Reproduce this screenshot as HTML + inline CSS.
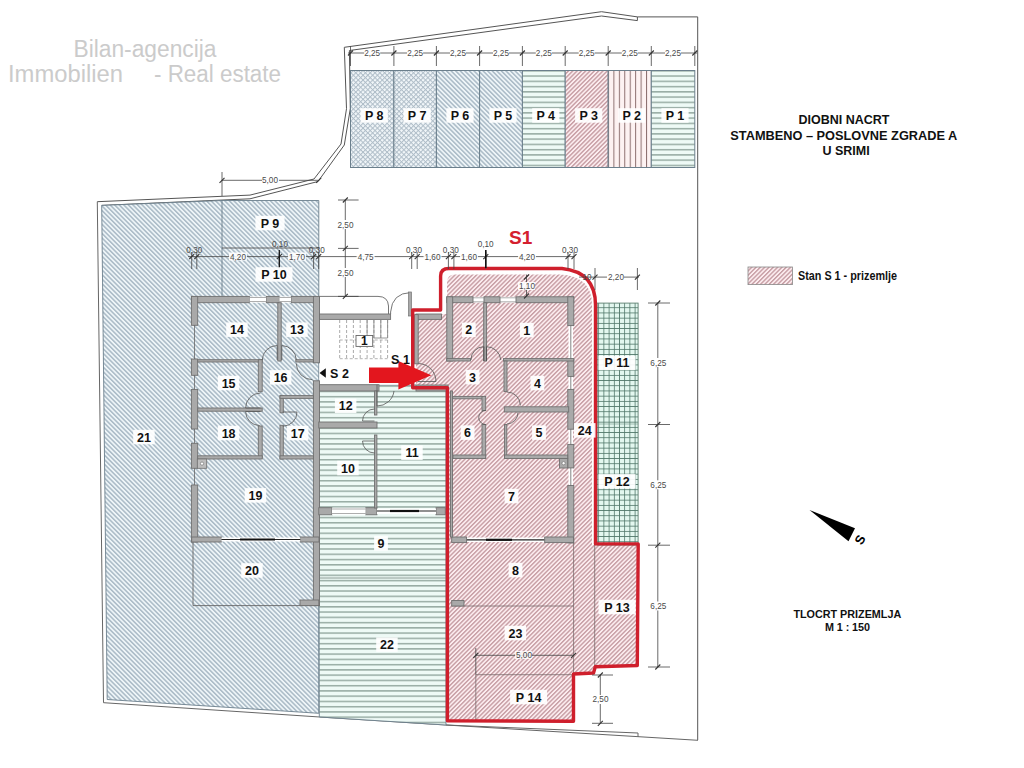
<!DOCTYPE html>
<html><head><meta charset="utf-8">
<style>
html,body{margin:0;padding:0;background:#fff;width:1024px;height:768px;overflow:hidden}
svg{display:block;font-family:"Liberation Sans", sans-serif}
</style></head><body>
<svg width="1024" height="768" viewBox="0 0 1024 768">
<defs>
<pattern id="hb" patternUnits="userSpaceOnUse" width="3.23" height="3.23" patternTransform="rotate(-45)">
<rect width="3.23" height="3.23" fill="#eef5f8"/><rect width="1.5" height="3.23" fill="#aabac6"/></pattern>
<pattern id="hp" patternUnits="userSpaceOnUse" width="3.05" height="3.05" patternTransform="rotate(45)">
<rect width="3.05" height="3.05" fill="#fcecef"/><rect width="1.4" height="3.05" fill="#c79ea4"/></pattern>
<pattern id="hg" patternUnits="userSpaceOnUse" width="10" height="5.255" y="1.75">
<rect width="10" height="5.255" fill="#eefaf6"/><rect y="0" width="10" height="1.5" fill="#98aca4"/></pattern>
<pattern id="gr" patternUnits="userSpaceOnUse" width="5.2" height="5.2" x="598.25" y="302.1">
<rect width="5.2" height="5.2" fill="#e3f7ef"/><rect width="5.2" height="0.8" fill="#4f7668"/><rect width="0.8" height="5.2" fill="#4f7668"/></pattern>
<pattern id="xb" patternUnits="userSpaceOnUse" width="3.4" height="3.4" patternTransform="rotate(45)">
<rect width="3.4" height="3.4" fill="#f1f6f9"/><rect width="1" height="3.4" fill="#afbdc8"/><rect width="3.4" height="1" fill="#afbdc8"/></pattern>
<pattern id="vp" patternUnits="userSpaceOnUse" width="5.44" height="10" x="613.4">
<rect width="5.4" height="10" fill="#fdf2f2"/><rect width="1" height="10" fill="#8d7070"/></pattern>
</defs>

<g fill="#cbcbcb" font-size="23.5">
<text x="145" y="56.5" text-anchor="middle" textLength="143" lengthAdjust="spacingAndGlyphs">Bilan-agencija</text>
<text x="8" y="81.5" textLength="115" lengthAdjust="spacingAndGlyphs">Immobilien</text>
<text x="154" y="81.5" textLength="127" lengthAdjust="spacingAndGlyphs">- Real estate</text>
</g>
<polyline points="97.3,201.7 250.0,195.1 314.0,179.0 341.0,144.0 346.5,108.7 344.3,47.3 601.5,11.7 637.4,16.9" fill="none" stroke="#555" stroke-width="1.0" />
<polyline points="101.7,205.4 250.0,198.8 318.0,181.5 344.3,145.0 350.3,108.7 349.4,50.5 601.5,16.0 637.4,20.6" fill="none" stroke="#555" stroke-width="1.0" />
<line x1="637.4" y1="16.9" x2="637.4" y2="20.6" stroke="#555" stroke-width="1" />
<polyline points="637.4,16.9 697.7,16.9 697.7,740.0" fill="none" stroke="#555" stroke-width="1.0" />
<polyline points="97.3,201.7 103.5,702.7 319.7,717.0 446.0,725.0 638.0,733.0 638.0,737.0" fill="none" stroke="#666" stroke-width="1.0" />
<polyline points="446.0,725.0 698.0,740.3" fill="none" stroke="#666" stroke-width="1.0" />
<rect x="350.5" y="70.5" width="43.4" height="97.0" fill="url(#xb)" stroke="#6b7f8c" stroke-width="1.0" />
<rect x="393.9" y="70.5" width="42.5" height="97.0" fill="url(#xb)" stroke="#6b7f8c" stroke-width="1.0" />
<rect x="436.4" y="70.5" width="43.2" height="97.0" fill="url(#hb)" stroke="#6b7f8c" stroke-width="1.0" />
<rect x="479.6" y="70.5" width="42.8" height="97.0" fill="url(#hb)" stroke="#6b7f8c" stroke-width="1.0" />
<rect x="522.4" y="70.5" width="42.8" height="97.0" fill="url(#hg)" stroke="#6b7f8c" stroke-width="1.0" />
<rect x="565.2" y="70.5" width="43.0" height="97.0" fill="url(#hp)" stroke="#6b7f8c" stroke-width="1.0" />
<rect x="608.2" y="70.5" width="43.1" height="97.0" fill="url(#vp)" stroke="#6b7f8c" stroke-width="1.0" />
<rect x="651.3" y="70.5" width="43.5" height="97.0" fill="url(#hg)" stroke="#6b7f8c" stroke-width="1.0" />
<line x1="348.0" y1="53.0" x2="697.0" y2="53.0" stroke="#444" stroke-width="0.8" />
<line x1="350.5" y1="46.0" x2="350.5" y2="66.0" stroke="#444" stroke-width="0.8" />
<line x1="348.0" y1="55.5" x2="353.0" y2="50.5" stroke="#333" stroke-width="1.1" />
<line x1="393.9" y1="46.0" x2="393.9" y2="66.0" stroke="#444" stroke-width="0.8" />
<line x1="391.4" y1="55.5" x2="396.4" y2="50.5" stroke="#333" stroke-width="1.1" />
<line x1="436.4" y1="46.0" x2="436.4" y2="66.0" stroke="#444" stroke-width="0.8" />
<line x1="433.9" y1="55.5" x2="438.9" y2="50.5" stroke="#333" stroke-width="1.1" />
<line x1="479.6" y1="46.0" x2="479.6" y2="66.0" stroke="#444" stroke-width="0.8" />
<line x1="477.1" y1="55.5" x2="482.1" y2="50.5" stroke="#333" stroke-width="1.1" />
<line x1="522.4" y1="46.0" x2="522.4" y2="66.0" stroke="#444" stroke-width="0.8" />
<line x1="519.9" y1="55.5" x2="524.9" y2="50.5" stroke="#333" stroke-width="1.1" />
<line x1="565.2" y1="46.0" x2="565.2" y2="66.0" stroke="#444" stroke-width="0.8" />
<line x1="562.7" y1="55.5" x2="567.7" y2="50.5" stroke="#333" stroke-width="1.1" />
<line x1="608.2" y1="46.0" x2="608.2" y2="66.0" stroke="#444" stroke-width="0.8" />
<line x1="605.7" y1="55.5" x2="610.7" y2="50.5" stroke="#333" stroke-width="1.1" />
<line x1="651.3" y1="46.0" x2="651.3" y2="66.0" stroke="#444" stroke-width="0.8" />
<line x1="648.8" y1="55.5" x2="653.8" y2="50.5" stroke="#333" stroke-width="1.1" />
<line x1="694.8" y1="46.0" x2="694.8" y2="66.0" stroke="#444" stroke-width="0.8" />
<line x1="692.3" y1="55.5" x2="697.3" y2="50.5" stroke="#333" stroke-width="1.1" />
<rect x="364.2" y="49" width="16" height="8" fill="#fff"/>
<text x="372.2" y="56.0" font-size="8.2" fill="#4a4a4a" text-anchor="middle">2,25</text>
<rect x="407.1" y="49" width="16" height="8" fill="#fff"/>
<text x="415.1" y="56.0" font-size="8.2" fill="#4a4a4a" text-anchor="middle">2,25</text>
<rect x="450.0" y="49" width="16" height="8" fill="#fff"/>
<text x="458.0" y="56.0" font-size="8.2" fill="#4a4a4a" text-anchor="middle">2,25</text>
<rect x="493.0" y="49" width="16" height="8" fill="#fff"/>
<text x="501.0" y="56.0" font-size="8.2" fill="#4a4a4a" text-anchor="middle">2,25</text>
<rect x="535.8" y="49" width="16" height="8" fill="#fff"/>
<text x="543.8" y="56.0" font-size="8.2" fill="#4a4a4a" text-anchor="middle">2,25</text>
<rect x="578.7" y="49" width="16" height="8" fill="#fff"/>
<text x="586.7" y="56.0" font-size="8.2" fill="#4a4a4a" text-anchor="middle">2,25</text>
<rect x="621.8" y="49" width="16" height="8" fill="#fff"/>
<text x="629.8" y="56.0" font-size="8.2" fill="#4a4a4a" text-anchor="middle">2,25</text>
<rect x="665.0" y="49" width="16" height="8" fill="#fff"/>
<text x="673.0" y="56.0" font-size="8.2" fill="#4a4a4a" text-anchor="middle">2,25</text>
<rect x="360.6" y="108.2" width="27.2" height="14.5" fill="#fff" opacity="0.92"/><text x="374.2" y="120.0" font-size="12.5" font-weight="bold" fill="#111" text-anchor="middle" letter-spacing="0">P 8</text>
<rect x="403.5" y="108.2" width="27.2" height="14.5" fill="#fff" opacity="0.92"/><text x="417.1" y="120.0" font-size="12.5" font-weight="bold" fill="#111" text-anchor="middle" letter-spacing="0">P 7</text>
<rect x="446.4" y="108.2" width="27.2" height="14.5" fill="#fff" opacity="0.92"/><text x="460.0" y="120.0" font-size="12.5" font-weight="bold" fill="#111" text-anchor="middle" letter-spacing="0">P 6</text>
<rect x="489.4" y="108.2" width="27.2" height="14.5" fill="#fff" opacity="0.92"/><text x="503.0" y="120.0" font-size="12.5" font-weight="bold" fill="#111" text-anchor="middle" letter-spacing="0">P 5</text>
<rect x="532.2" y="108.2" width="27.2" height="14.5" fill="#fff" opacity="0.92"/><text x="545.8" y="120.0" font-size="12.5" font-weight="bold" fill="#111" text-anchor="middle" letter-spacing="0">P 4</text>
<rect x="575.1" y="108.2" width="27.2" height="14.5" fill="#fff" opacity="0.92"/><text x="588.7" y="120.0" font-size="12.5" font-weight="bold" fill="#111" text-anchor="middle" letter-spacing="0">P 3</text>
<rect x="618.1" y="108.2" width="27.2" height="14.5" fill="#fff" opacity="0.92"/><text x="631.8" y="120.0" font-size="12.5" font-weight="bold" fill="#111" text-anchor="middle" letter-spacing="0">P 2</text>
<rect x="661.4" y="108.2" width="27.2" height="14.5" fill="#fff" opacity="0.92"/><text x="675.0" y="120.0" font-size="12.5" font-weight="bold" fill="#111" text-anchor="middle" letter-spacing="0">P 1</text>
<polygon points="101.7,205.4 222.0,200.5 318.8,200.5 318.8,713.3 107.2,699.5" fill="url(#hb)" stroke="#6b7f8c" stroke-width="0.9" />
<line x1="222.0" y1="200.0" x2="222.0" y2="296.4" stroke="#6b7f8c" stroke-width="0.9" />
<line x1="222.0" y1="248.0" x2="318.8" y2="248.0" stroke="#555" stroke-width="0.9" />
<polyline points="193.0,542.0 193.0,605.6 318.8,605.6" fill="none" stroke="#666" stroke-width="0.9" />
<polyline points="193.0,296.4 193.0,200.0" fill="none" stroke="#6b7f8c" stroke-width="0.0" />
<polygon points="318.8,385.0 446.0,385.0 446.0,725.0 319.3,717.0" fill="url(#hg)" stroke="#6b7f8c" stroke-width="0.9" />
<line x1="319.3" y1="578.0" x2="446.0" y2="578.0" stroke="#7d8f88" stroke-width="0.9" />
<path d="M416,314 L447,314 L447,283 Q447,274.6 455,274.6 L560,274.6 Q592,276 592,305 L592,545 L637,545 L636.5,665 L595,666.7 L593.3,672.5 L573.5,673.3 L573.5,721 L448,721 L448,388.5 L416,387.5 Z" fill="url(#hp)" stroke="none"/>
<line x1="573.6" y1="542.0" x2="573.6" y2="673.3" stroke="#7a6a6c" stroke-width="0.8" />
<line x1="451.7" y1="606.0" x2="573.6" y2="606.0" stroke="#7a6a6c" stroke-width="0.8" />
<polyline points="475.8,722.0 475.8,674.7 573.5,674.7" fill="none" stroke="#7a6a6c" stroke-width="0.8" />
<line x1="594.7" y1="544.0" x2="594.7" y2="666.0" stroke="#7a6a6c" stroke-width="0.8" />
<rect x="597.1" y="303.1" width="41.0" height="241.9" fill="url(#gr)" stroke="#5b7f70" stroke-width="0.9" />
<line x1="597.1" y1="424.0" x2="638.1" y2="424.0" stroke="#6e9384" stroke-width="0.6" />
<rect x="319.5" y="296.4" width="91.5" height="88.3" fill="#ffffff" />
<path d="M319.5,296.4 L378,296.4 Q388,296.4 388.5,306 L388.5,314" fill="none" stroke="#666" stroke-width="0.9"/>
<path d="M390.6,314 L390.6,312 Q392,293 411,292.5" fill="none" stroke="#666" stroke-width="0.9"/>
<rect x="408.6" y="292.0" width="2.8" height="24.0" fill="#a9a9a9" stroke="#707070" stroke-width="0.7" />
<line x1="345.3" y1="200.0" x2="345.3" y2="296.4" stroke="#444" stroke-width="0.8" />
<line x1="339.7" y1="320.0" x2="339.7" y2="358.7" stroke="#a0a0a0" stroke-width="0.9" stroke-dasharray="3,2"/>
<line x1="346.6" y1="320.0" x2="346.6" y2="358.7" stroke="#a0a0a0" stroke-width="0.9" stroke-dasharray="3,2"/>
<line x1="353.4" y1="320.0" x2="353.4" y2="358.7" stroke="#a0a0a0" stroke-width="0.9" stroke-dasharray="3,2"/>
<line x1="360.2" y1="320.0" x2="360.2" y2="358.7" stroke="#a0a0a0" stroke-width="0.9" stroke-dasharray="3,2"/>
<line x1="367.1" y1="320.0" x2="367.1" y2="358.7" stroke="#a0a0a0" stroke-width="0.9" stroke-dasharray="3,2"/>
<line x1="367.1" y1="320.0" x2="367.1" y2="338.0" stroke="#8a8a8a" stroke-width="0.9" />
<line x1="373.9" y1="320.0" x2="373.9" y2="358.7" stroke="#a0a0a0" stroke-width="0.9" stroke-dasharray="3,2"/>
<line x1="373.9" y1="320.0" x2="373.9" y2="338.0" stroke="#8a8a8a" stroke-width="0.9" />
<line x1="380.8" y1="320.0" x2="380.8" y2="358.7" stroke="#a0a0a0" stroke-width="0.9" stroke-dasharray="3,2"/>
<line x1="380.8" y1="320.0" x2="380.8" y2="338.0" stroke="#8a8a8a" stroke-width="0.9" />
<line x1="387.6" y1="320.0" x2="387.6" y2="358.7" stroke="#a0a0a0" stroke-width="0.9" stroke-dasharray="3,2"/>
<line x1="387.6" y1="320.0" x2="387.6" y2="338.0" stroke="#8a8a8a" stroke-width="0.9" />
<line x1="339.7" y1="340.0" x2="387.6" y2="340.0" stroke="#a0a0a0" stroke-width="0.8" stroke-dasharray="3,2"/>
<line x1="339.7" y1="358.7" x2="387.6" y2="358.7" stroke="#a0a0a0" stroke-width="0.8" stroke-dasharray="3,2"/>
<line x1="373.8" y1="338.0" x2="387.6" y2="338.0" stroke="#8a8a8a" stroke-width="0.9" />
<rect x="356.0" y="335.5" width="16.7" height="10.9" fill="#fff" stroke="#666" stroke-width="0.9" />
<text x="364.3" y="345" font-size="12" font-weight="bold" fill="#111" text-anchor="middle">1</text>
<rect x="191.4" y="296.4" width="58.3" height="6.3" fill="#a9a9a9" stroke="#707070" stroke-width="0.9" />
<rect x="266.0" y="296.4" width="13.4" height="6.3" fill="#a9a9a9" stroke="#707070" stroke-width="0.9" />
<rect x="291.0" y="296.4" width="28.2" height="6.3" fill="#a9a9a9" stroke="#707070" stroke-width="0.9" />
<rect x="191.4" y="296.4" width="6.3" height="28.9" fill="#a9a9a9" stroke="#707070" stroke-width="0.9" />
<rect x="191.4" y="359.0" width="6.3" height="16.3" fill="#a9a9a9" stroke="#707070" stroke-width="0.9" />
<rect x="191.4" y="389.4" width="6.3" height="39.6" fill="#a9a9a9" stroke="#707070" stroke-width="0.9" />
<rect x="191.4" y="443.3" width="6.3" height="25.0" fill="#a9a9a9" stroke="#707070" stroke-width="0.9" />
<rect x="191.4" y="485.0" width="6.3" height="57.0" fill="#a9a9a9" stroke="#707070" stroke-width="0.9" />
<rect x="313.4" y="296.4" width="6.1" height="66.4" fill="#a9a9a9" stroke="#707070" stroke-width="0.9" />
<rect x="313.4" y="380.8" width="6.1" height="224.8" fill="#a9a9a9" stroke="#707070" stroke-width="0.9" />
<rect x="191.7" y="537.0" width="29.7" height="5.0" fill="#a9a9a9" stroke="#707070" stroke-width="0.9" />
<rect x="300.3" y="537.0" width="18.7" height="5.0" fill="#a9a9a9" stroke="#707070" stroke-width="0.9" />
<rect x="300.0" y="600.0" width="18.8" height="5.6" fill="#a9a9a9" stroke="#707070" stroke-width="0.9" />
<rect x="319.5" y="314.0" width="71.1" height="5.4" fill="#a9a9a9" stroke="#707070" stroke-width="0.9" />
<rect x="319.5" y="384.7" width="59.5" height="6.3" fill="#a9a9a9" stroke="#707070" stroke-width="0.9" />
<rect x="318.8" y="422.0" width="58.2" height="6.0" fill="#a9a9a9" stroke="#707070" stroke-width="0.9" />
<rect x="318.8" y="507.7" width="13.2" height="7.1" fill="#a9a9a9" stroke="#707070" stroke-width="0.9" />
<rect x="365.6" y="507.7" width="11.3" height="7.1" fill="#a9a9a9" stroke="#707070" stroke-width="0.9" />
<rect x="436.0" y="507.7" width="9.3" height="7.1" fill="#a9a9a9" stroke="#707070" stroke-width="0.9" />
<rect x="249.7" y="296.4" width="16.3" height="6.3" fill="#fff" />
<rect x="279.4" y="296.4" width="11.6" height="6.3" fill="#fff" />
<rect x="332.0" y="507.7" width="33.6" height="7.1" fill="#fff" />
<rect x="473.0" y="296.8" width="11.0" height="5.9" fill="#fff" />
<rect x="500.0" y="296.8" width="16.0" height="5.9" fill="#fff" />
<rect x="568.5" y="325.6" width="4.5" height="33.8" fill="#fff" />
<rect x="568.5" y="376.4" width="4.5" height="13.0" fill="#fff" />
<rect x="568.5" y="429.2" width="4.5" height="15.2" fill="#fff" />
<rect x="568.5" y="467.9" width="4.5" height="17.6" fill="#fff" />
<rect x="221.4" y="537.5" width="78.9" height="4.0" fill="#fff" />
<rect x="466.6" y="537.5" width="78.1" height="4.5" fill="#fff" />
<rect x="377.0" y="508.5" width="59.0" height="5.5" fill="#fff" />
<line x1="249.7" y1="297.5" x2="266.0" y2="297.5" stroke="#777" stroke-width="0.6" />
<line x1="249.7" y1="301.5" x2="266.0" y2="301.5" stroke="#777" stroke-width="0.6" />
<line x1="279.4" y1="297.5" x2="291.0" y2="297.5" stroke="#777" stroke-width="0.6" />
<line x1="279.4" y1="301.5" x2="291.0" y2="301.5" stroke="#777" stroke-width="0.6" />
<line x1="332.0" y1="509.0" x2="365.6" y2="509.0" stroke="#777" stroke-width="0.6" />
<line x1="332.0" y1="513.5" x2="365.6" y2="513.5" stroke="#777" stroke-width="0.6" />
<line x1="194.5" y1="325.3" x2="194.5" y2="359.0" stroke="#666" stroke-width="0.8" />
<line x1="194.5" y1="375.3" x2="194.5" y2="389.4" stroke="#666" stroke-width="0.8" />
<line x1="194.5" y1="429.0" x2="194.5" y2="443.3" stroke="#666" stroke-width="0.8" />
<line x1="194.5" y1="468.3" x2="194.5" y2="485.0" stroke="#666" stroke-width="0.8" />
<rect x="277.8" y="302.7" width="3.4" height="58.3" fill="#a9a9a9" stroke="#707070" stroke-width="0.9" />
<rect x="197.7" y="359.7" width="64.5" height="2.3" fill="#a9a9a9" stroke="#707070" stroke-width="0.9" />
<rect x="258.3" y="359.7" width="3.9" height="32.0" fill="#a9a9a9" stroke="#707070" stroke-width="0.9" />
<rect x="295.8" y="359.7" width="17.6" height="2.3" fill="#a9a9a9" stroke="#707070" stroke-width="0.9" />
<rect x="197.7" y="408.0" width="64.5" height="3.2" fill="#a9a9a9" stroke="#707070" stroke-width="0.9" />
<rect x="258.3" y="426.0" width="3.9" height="32.0" fill="#a9a9a9" stroke="#707070" stroke-width="0.9" />
<rect x="197.7" y="455.8" width="64.5" height="3.2" fill="#a9a9a9" stroke="#707070" stroke-width="0.9" />
<rect x="280.0" y="395.6" width="3.3" height="17.2" fill="#a9a9a9" stroke="#707070" stroke-width="0.9" />
<rect x="280.0" y="425.3" width="3.3" height="33.7" fill="#a9a9a9" stroke="#707070" stroke-width="0.9" />
<rect x="280.0" y="395.6" width="33.4" height="2.8" fill="#a9a9a9" stroke="#707070" stroke-width="0.9" />
<rect x="280.0" y="455.8" width="33.4" height="3.2" fill="#a9a9a9" stroke="#707070" stroke-width="0.9" />
<rect x="374.5" y="391.0" width="2.4" height="24.0" fill="#a9a9a9" stroke="#707070" stroke-width="0.9" />
<rect x="374.5" y="435.0" width="2.4" height="73.0" fill="#a9a9a9" stroke="#707070" stroke-width="0.9" />
<rect x="197.3" y="459.0" width="9.4" height="9.3" fill="#bdbdbd" stroke="#707070" stroke-width="0.8" />
<circle cx="202" cy="463.6" r="1.6" fill="#fff" stroke="#555" stroke-width="0.5"/>
<line x1="221.4" y1="539.5" x2="300.3" y2="539.5" stroke="#222" stroke-width="1.2" />
<line x1="377.0" y1="511.0" x2="436.0" y2="511.0" stroke="#222" stroke-width="1.2" />
<line x1="466.6" y1="539.8" x2="544.7" y2="539.8" stroke="#222" stroke-width="1.2" />
<path d="M262.2,360 A15,15 0 0 1 277.2,345.5 L277.2,360" fill="none" stroke="#555" stroke-width="0.8"/>
<path d="M281.8,360 L281.8,345.5 A15,15 0 0 1 296.3,360" fill="none" stroke="#555" stroke-width="0.8"/>
<path d="M296.3,363.5 A16.2,16.2 0 0 0 312.5,379.7" fill="none" stroke="#555" stroke-width="0.8"/>
<path d="M260.6,393 A15,15 0 0 0 245.6,408 L260.6,408 M245.6,411.5 L260.6,411.5 M245.6,411.5 A14,14 0 0 0 259.6,425.5" fill="none" stroke="#555" stroke-width="0.8"/>
<path d="M282.8,412 L297,412 A14.2,14.2 0 0 1 282.8,426.2" fill="none" stroke="#555" stroke-width="0.8"/>
<path d="M377,384.7 L377,406 A17,17 0 0 0 394,391" fill="none" stroke="#555" stroke-width="0.8"/>
<path d="M374.5,409 A12,12 0 0 0 362.5,421 L374.5,421" fill="none" stroke="#555" stroke-width="0.8"/>
<path d="M374.5,441 L362.5,441 A12,12 0 0 0 374.5,453" fill="none" stroke="#555" stroke-width="0.8"/>
<line x1="240.0" y1="539.5" x2="275.0" y2="539.5" stroke="#111" stroke-width="2.2" />
<line x1="390.0" y1="511.0" x2="419.0" y2="511.0" stroke="#111" stroke-width="2.2" />
<line x1="486.0" y1="539.8" x2="512.0" y2="539.8" stroke="#111" stroke-width="2.2" />
<rect x="446.8" y="296.8" width="26.2" height="5.9" fill="#a9a9a9" stroke="#707070" stroke-width="0.9" />
<rect x="484.0" y="296.8" width="16.0" height="5.9" fill="#a9a9a9" stroke="#707070" stroke-width="0.9" />
<rect x="516.0" y="296.8" width="57.8" height="5.9" fill="#a9a9a9" stroke="#707070" stroke-width="0.9" />
<rect x="446.8" y="296.8" width="5.9" height="64.2" fill="#a9a9a9" stroke="#707070" stroke-width="0.9" />
<rect x="567.8" y="296.8" width="6.0" height="28.8" fill="#a9a9a9" stroke="#707070" stroke-width="0.9" />
<rect x="567.8" y="359.4" width="6.0" height="17.0" fill="#a9a9a9" stroke="#707070" stroke-width="0.9" />
<rect x="567.8" y="389.4" width="6.0" height="39.8" fill="#a9a9a9" stroke="#707070" stroke-width="0.9" />
<rect x="567.8" y="444.4" width="6.0" height="23.5" fill="#a9a9a9" stroke="#707070" stroke-width="0.9" />
<rect x="567.8" y="485.5" width="6.0" height="57.5" fill="#a9a9a9" stroke="#707070" stroke-width="0.9" />
<rect x="451.7" y="537.0" width="14.9" height="5.6" fill="#a9a9a9" stroke="#707070" stroke-width="0.9" />
<rect x="544.7" y="537.0" width="28.9" height="5.6" fill="#a9a9a9" stroke="#707070" stroke-width="0.9" />
<rect x="451.7" y="600.5" width="12.3" height="5.5" fill="#a9a9a9" stroke="#707070" stroke-width="0.9" />
<rect x="416.0" y="314.0" width="25.5" height="5.4" fill="#a9a9a9" stroke="#707070" stroke-width="0.9" />
<rect x="416.0" y="385.0" width="32.0" height="6.0" fill="#a9a9a9" stroke="#707070" stroke-width="0.9" />
<rect x="559.5" y="458.5" width="8.2" height="9.5" fill="#a9a9a9" stroke="#707070" stroke-width="0.9" />
<line x1="570.8" y1="325.6" x2="570.8" y2="359.4" stroke="#666" stroke-width="0.8" />
<line x1="570.8" y1="376.4" x2="570.8" y2="389.4" stroke="#666" stroke-width="0.8" />
<line x1="570.8" y1="429.2" x2="570.8" y2="444.4" stroke="#666" stroke-width="0.8" />
<line x1="570.8" y1="467.9" x2="570.8" y2="485.5" stroke="#666" stroke-width="0.8" />
<line x1="473.0" y1="297.8" x2="484.0" y2="297.8" stroke="#777" stroke-width="0.6" />
<line x1="473.0" y1="301.8" x2="484.0" y2="301.8" stroke="#777" stroke-width="0.6" />
<line x1="500.0" y1="297.8" x2="516.0" y2="297.8" stroke="#777" stroke-width="0.6" />
<line x1="500.0" y1="301.8" x2="516.0" y2="301.8" stroke="#777" stroke-width="0.6" />
<rect x="483.7" y="302.7" width="2.9" height="58.3" fill="#a9a9a9" stroke="#707070" stroke-width="0.9" />
<rect x="446.8" y="358.6" width="23.7" height="2.4" fill="#a9a9a9" stroke="#707070" stroke-width="0.9" />
<rect x="503.5" y="358.6" width="70.3" height="2.4" fill="#a9a9a9" stroke="#707070" stroke-width="0.9" />
<rect x="504.0" y="361.0" width="3.0" height="30.6" fill="#a9a9a9" stroke="#707070" stroke-width="0.9" />
<rect x="504.3" y="406.8" width="64.4" height="5.2" fill="#a9a9a9" stroke="#707070" stroke-width="0.9" />
<rect x="504.5" y="424.5" width="2.3" height="34.0" fill="#a9a9a9" stroke="#707070" stroke-width="0.9" />
<rect x="504.5" y="455.0" width="63.2" height="3.5" fill="#a9a9a9" stroke="#707070" stroke-width="0.9" />
<rect x="452.7" y="396.4" width="32.2" height="2.4" fill="#a9a9a9" stroke="#707070" stroke-width="0.9" />
<rect x="482.0" y="396.4" width="3.7" height="14.1" fill="#a9a9a9" stroke="#707070" stroke-width="0.9" />
<rect x="482.0" y="424.5" width="3.7" height="34.0" fill="#a9a9a9" stroke="#707070" stroke-width="0.9" />
<rect x="453.0" y="455.0" width="32.7" height="3.5" fill="#a9a9a9" stroke="#707070" stroke-width="0.9" />
<rect x="450.5" y="391.0" width="2.0" height="146.0" fill="#a9a9a9" stroke="#707070" stroke-width="0.9" />
<line x1="483.9" y1="346.7" x2="483.9" y2="361.0" stroke="#444" stroke-width="0.8" />
<line x1="486.4" y1="346.7" x2="486.4" y2="361.0" stroke="#444" stroke-width="0.8" />
<path d="M471,360 A12.9,12.9 0 0 1 483.9,346.7" fill="none" stroke="#555" stroke-width="0.8"/>
<path d="M486.4,346.7 A14.4,14.4 0 0 1 500.8,360" fill="none" stroke="#555" stroke-width="0.8"/>
<path d="M507,392 A13.4,13.4 0 0 1 520.4,405.4" fill="none" stroke="#555" stroke-width="0.8"/>
<path d="M518,412.5 A11.5,11.5 0 0 1 507,424" fill="none" stroke="#555" stroke-width="0.8"/>
<path d="M485.7,410.5 A7,7 0 0 0 485.7,424.5" fill="none" stroke="#555" stroke-width="0.8"/>
<path d="M418,363.5 A18,18 0 0 1 436,381.5 L418,381.5" fill="none" stroke="#555" stroke-width="0.8"/>
<rect x="414.6" y="314.6" width="3.6" height="49.2" fill="#a9a9a9" stroke="#707070" stroke-width="0.9" />
<circle cx="563.6" cy="463.2" r="1.6" fill="#fff" stroke="#555" stroke-width="0.5"/>
<path d="M412.7,310 L440.6,310 L440.6,276 Q440.6,268.5 449,268.5 L562,268.5 Q595.5,272 595.5,305 L595.5,543.9 L638.2,543.9 L637.3,665.5 L595.3,666.7 L593.5,673 L573.5,674 L573.5,721.2 L447.4,720.8 L447.4,387.8 L412.7,387.8 Z" fill="none" stroke="#cf1f2c" stroke-width="3.4" stroke-linejoin="round"/>
<path d="M369,367.5 L398.4,367.5 L398.4,361 L431.3,375.3 L398.4,389.4 L398.4,383 L369,383 Z" fill="#e3161e"/>
<text x="400.5" y="363.5" font-size="12.5" font-weight="bold" fill="#111" text-anchor="middle">S 1</text>
<path d="M319.5,373 L325.8,368.3 L325.8,377.7 Z" fill="#111"/>
<text x="339.5" y="377.5" font-size="12.5" font-weight="bold" fill="#111" text-anchor="middle">S 2</text>
<text x="520.6" y="244" font-size="19" font-weight="bold" fill="#d4202e" text-anchor="middle">S1</text>
<line x1="188.0" y1="256.6" x2="574.0" y2="256.6" stroke="#444" stroke-width="0.8" />
<line x1="191.7" y1="252.0" x2="191.7" y2="269.0" stroke="#444" stroke-width="0.8" />
<line x1="189.2" y1="259.1" x2="194.2" y2="254.1" stroke="#333" stroke-width="1.1" />
<line x1="196.8" y1="252.0" x2="196.8" y2="269.0" stroke="#444" stroke-width="0.8" />
<line x1="194.3" y1="259.1" x2="199.3" y2="254.1" stroke="#333" stroke-width="1.1" />
<line x1="279.3" y1="252.0" x2="279.3" y2="269.0" stroke="#444" stroke-width="0.8" />
<line x1="276.8" y1="259.1" x2="281.8" y2="254.1" stroke="#333" stroke-width="1.1" />
<line x1="313.6" y1="252.0" x2="313.6" y2="269.0" stroke="#444" stroke-width="0.8" />
<line x1="311.1" y1="259.1" x2="316.1" y2="254.1" stroke="#333" stroke-width="1.1" />
<line x1="318.7" y1="252.0" x2="318.7" y2="269.0" stroke="#444" stroke-width="0.8" />
<line x1="316.2" y1="259.1" x2="321.2" y2="254.1" stroke="#333" stroke-width="1.1" />
<line x1="411.7" y1="252.0" x2="411.7" y2="269.0" stroke="#444" stroke-width="0.8" />
<line x1="409.2" y1="259.1" x2="414.2" y2="254.1" stroke="#333" stroke-width="1.1" />
<line x1="417.2" y1="252.0" x2="417.2" y2="269.0" stroke="#444" stroke-width="0.8" />
<line x1="414.7" y1="259.1" x2="419.7" y2="254.1" stroke="#333" stroke-width="1.1" />
<line x1="448.4" y1="252.0" x2="448.4" y2="269.0" stroke="#444" stroke-width="0.8" />
<line x1="445.9" y1="259.1" x2="450.9" y2="254.1" stroke="#333" stroke-width="1.1" />
<line x1="453.9" y1="252.0" x2="453.9" y2="269.0" stroke="#444" stroke-width="0.8" />
<line x1="451.4" y1="259.1" x2="456.4" y2="254.1" stroke="#333" stroke-width="1.1" />
<line x1="485.8" y1="252.0" x2="485.8" y2="269.0" stroke="#444" stroke-width="0.8" />
<line x1="483.3" y1="259.1" x2="488.3" y2="254.1" stroke="#333" stroke-width="1.1" />
<line x1="568.0" y1="252.0" x2="568.0" y2="269.0" stroke="#444" stroke-width="0.8" />
<line x1="565.5" y1="259.1" x2="570.5" y2="254.1" stroke="#333" stroke-width="1.1" />
<line x1="574.0" y1="252.0" x2="574.0" y2="269.0" stroke="#444" stroke-width="0.8" />
<line x1="571.5" y1="259.1" x2="576.5" y2="254.1" stroke="#333" stroke-width="1.1" />
<line x1="485.8" y1="250.0" x2="485.8" y2="268.0" stroke="#111" stroke-width="1.6" />
<line x1="279.3" y1="250.0" x2="279.3" y2="268.0" stroke="#111" stroke-width="1.2" />
<text x="194.3" y="253.0" font-size="8.2" fill="#4a4a4a" text-anchor="middle">0,30</text>
<rect x="229.0" y="252.5" width="18" height="8" fill="#fff" opacity="0.9"/>
<text x="238.0" y="259.6" font-size="8.2" fill="#4a4a4a" text-anchor="middle">4,20</text>
<text x="280.0" y="246.5" font-size="8.2" fill="#4a4a4a" text-anchor="middle">0,10</text>
<rect x="288.0" y="252.5" width="18" height="8" fill="#fff" opacity="0.9"/>
<text x="297.0" y="259.6" font-size="8.2" fill="#4a4a4a" text-anchor="middle">1,70</text>
<text x="316.8" y="253.0" font-size="8.2" fill="#4a4a4a" text-anchor="middle">0,30</text>
<rect x="356.6" y="252.5" width="18" height="8" fill="#fff" opacity="0.9"/>
<text x="365.6" y="259.6" font-size="8.2" fill="#4a4a4a" text-anchor="middle">4,75</text>
<text x="414.0" y="253.0" font-size="8.2" fill="#4a4a4a" text-anchor="middle">0,30</text>
<rect x="423.5" y="252.5" width="18" height="8" fill="#fff" opacity="0.9"/>
<text x="432.5" y="259.6" font-size="8.2" fill="#4a4a4a" text-anchor="middle">1,60</text>
<text x="450.8" y="253.0" font-size="8.2" fill="#4a4a4a" text-anchor="middle">0,30</text>
<rect x="460.0" y="252.5" width="18" height="8" fill="#fff" opacity="0.9"/>
<text x="469.0" y="259.6" font-size="8.2" fill="#4a4a4a" text-anchor="middle">1,60</text>
<text x="485.7" y="247.0" font-size="8.2" fill="#4a4a4a" text-anchor="middle">0,10</text>
<rect x="518.0" y="252.5" width="18" height="8" fill="#fff" opacity="0.9"/>
<text x="527.0" y="259.6" font-size="8.2" fill="#4a4a4a" text-anchor="middle">4,20</text>
<text x="570.0" y="253.0" font-size="8.2" fill="#4a4a4a" text-anchor="middle">0,30</text>
<line x1="338.0" y1="200.0" x2="358.6" y2="200.0" stroke="#444" stroke-width="0.8" />
<line x1="342.8" y1="202.5" x2="347.8" y2="197.5" stroke="#333" stroke-width="1.1" />
<line x1="338.0" y1="248.4" x2="358.6" y2="248.4" stroke="#444" stroke-width="0.8" />
<line x1="342.8" y1="250.9" x2="347.8" y2="245.9" stroke="#333" stroke-width="1.1" />
<line x1="338.0" y1="296.4" x2="358.6" y2="296.4" stroke="#444" stroke-width="0.8" />
<line x1="342.8" y1="298.9" x2="347.8" y2="293.9" stroke="#333" stroke-width="1.1" />
<rect x="337" y="220" width="17" height="9" fill="#fff"/>
<text x="345.5" y="227.5" font-size="8.2" fill="#4a4a4a" text-anchor="middle">2,50</text>
<rect x="337" y="268" width="17" height="9" fill="#fff"/>
<text x="345.5" y="276.0" font-size="8.2" fill="#4a4a4a" text-anchor="middle">2,50</text>
<line x1="222.0" y1="180.3" x2="318.7" y2="180.3" stroke="#444" stroke-width="0.8" />
<line x1="222.0" y1="172.0" x2="222.0" y2="196.0" stroke="#444" stroke-width="0.8" />
<line x1="219.5" y1="182.8" x2="224.5" y2="177.8" stroke="#333" stroke-width="1.1" />
<line x1="316.2" y1="182.8" x2="321.2" y2="177.8" stroke="#333" stroke-width="1.1" />
<rect x="262" y="176" width="17" height="8" fill="#fff"/>
<text x="270.0" y="183.3" font-size="8.2" fill="#4a4a4a" text-anchor="middle">5,00</text>
<line x1="526.5" y1="274.6" x2="526.5" y2="296.2" stroke="#444" stroke-width="0.8" />
<line x1="524.0" y1="279.5" x2="529.0" y2="274.5" stroke="#333" stroke-width="1.1" />
<line x1="524.0" y1="298.5" x2="529.0" y2="293.5" stroke="#333" stroke-width="1.1" />
<rect x="518" y="282" width="17" height="8" fill="#fff" opacity="0.9"/>
<text x="527.0" y="289.3" font-size="8.2" fill="#4a4a4a" text-anchor="middle">1,10</text>
<line x1="579.0" y1="277.1" x2="639.0" y2="277.1" stroke="#444" stroke-width="0.8" />
<line x1="595.0" y1="268.0" x2="595.0" y2="290.0" stroke="#444" stroke-width="0.8" />
<line x1="637.4" y1="268.0" x2="637.4" y2="290.0" stroke="#444" stroke-width="0.8" />
<line x1="592.5" y1="279.6" x2="597.5" y2="274.6" stroke="#333" stroke-width="1.1" />
<line x1="634.9" y1="279.6" x2="639.9" y2="274.6" stroke="#333" stroke-width="1.1" />
<text x="587.0" y="280.1" font-size="8.2" fill="#4a4a4a" text-anchor="middle">10</text>
<rect x="607" y="273" width="17" height="8" fill="#fff"/>
<text x="616.0" y="280.1" font-size="8.2" fill="#4a4a4a" text-anchor="middle">2,20</text>
<line x1="657.8" y1="303.0" x2="657.8" y2="667.0" stroke="#444" stroke-width="0.8" />
<line x1="648.0" y1="303.0" x2="670.0" y2="303.0" stroke="#444" stroke-width="0.8" />
<line x1="655.3" y1="305.5" x2="660.3" y2="300.5" stroke="#333" stroke-width="1.1" />
<line x1="648.0" y1="424.5" x2="670.0" y2="424.5" stroke="#444" stroke-width="0.8" />
<line x1="655.3" y1="427.0" x2="660.3" y2="422.0" stroke="#333" stroke-width="1.1" />
<line x1="648.0" y1="545.2" x2="670.0" y2="545.2" stroke="#444" stroke-width="0.8" />
<line x1="655.3" y1="547.7" x2="660.3" y2="542.7" stroke="#333" stroke-width="1.1" />
<line x1="648.0" y1="667.0" x2="670.0" y2="667.0" stroke="#444" stroke-width="0.8" />
<line x1="655.3" y1="669.5" x2="660.3" y2="664.5" stroke="#333" stroke-width="1.1" />
<rect x="649" y="358.0" width="18" height="9" fill="#fff"/>
<text x="658.3" y="365.5" font-size="8.2" fill="#4a4a4a" text-anchor="middle">6,25</text>
<rect x="649" y="480.3" width="18" height="9" fill="#fff"/>
<text x="658.3" y="487.8" font-size="8.2" fill="#4a4a4a" text-anchor="middle">6,25</text>
<rect x="649" y="601.5" width="18" height="9" fill="#fff"/>
<text x="658.3" y="609.0" font-size="8.2" fill="#4a4a4a" text-anchor="middle">6,25</text>
<line x1="600.3" y1="675.0" x2="600.3" y2="723.3" stroke="#444" stroke-width="0.8" />
<line x1="592.0" y1="675.0" x2="613.0" y2="675.0" stroke="#444" stroke-width="0.8" />
<line x1="597.8" y1="677.5" x2="602.8" y2="672.5" stroke="#333" stroke-width="1.1" />
<line x1="592.0" y1="723.3" x2="613.0" y2="723.3" stroke="#444" stroke-width="0.8" />
<line x1="597.8" y1="725.8" x2="602.8" y2="720.8" stroke="#333" stroke-width="1.1" />
<rect x="592" y="695" width="17" height="9" fill="#fff"/>
<text x="600.5" y="702.2" font-size="8.2" fill="#4a4a4a" text-anchor="middle">2,50</text>
<line x1="475.8" y1="655.3" x2="573.5" y2="655.3" stroke="#444" stroke-width="0.8" />
<line x1="475.8" y1="648.0" x2="475.8" y2="674.7" stroke="#444" stroke-width="0.8" />
<line x1="473.3" y1="657.8" x2="478.3" y2="652.8" stroke="#333" stroke-width="1.1" />
<line x1="571.0" y1="657.8" x2="576.0" y2="652.8" stroke="#333" stroke-width="1.1" />
<rect x="515" y="651" width="17" height="8" fill="#fff" opacity="0.8"/>
<text x="524.0" y="658.3" font-size="8.2" fill="#4a4a4a" text-anchor="middle">5,00</text>
<rect x="255.4" y="215.8" width="29.2" height="14.5" fill="#fff" opacity="0.92"/><text x="270.0" y="227.5" font-size="12.5" font-weight="bold" fill="#111" text-anchor="middle" letter-spacing="0">P 9</text>
<rect x="255.5" y="267.2" width="37.0" height="14.5" fill="#fff" opacity="0.92"/><text x="274.0" y="279.0" font-size="12.5" font-weight="bold" fill="#111" text-anchor="middle" letter-spacing="0">P 10</text>
<rect x="226.2" y="322.4" width="21.5" height="14.5" fill="#fff" opacity="0.92"/><text x="237.0" y="334.2" font-size="12.5" font-weight="bold" fill="#111" text-anchor="middle" letter-spacing="0">14</text>
<rect x="286.2" y="322.4" width="21.5" height="14.5" fill="#fff" opacity="0.92"/><text x="297.0" y="334.2" font-size="12.5" font-weight="bold" fill="#111" text-anchor="middle" letter-spacing="0">13</text>
<rect x="217.8" y="375.8" width="21.5" height="14.5" fill="#fff" opacity="0.92"/><text x="228.6" y="387.5" font-size="12.5" font-weight="bold" fill="#111" text-anchor="middle" letter-spacing="0">15</text>
<rect x="269.9" y="370.1" width="21.5" height="14.5" fill="#fff" opacity="0.92"/><text x="280.6" y="381.8" font-size="12.5" font-weight="bold" fill="#111" text-anchor="middle" letter-spacing="0">16</text>
<rect x="217.8" y="425.8" width="21.5" height="14.5" fill="#fff" opacity="0.92"/><text x="228.6" y="437.5" font-size="12.5" font-weight="bold" fill="#111" text-anchor="middle" letter-spacing="0">18</text>
<rect x="286.9" y="425.8" width="21.5" height="14.5" fill="#fff" opacity="0.92"/><text x="297.7" y="437.5" font-size="12.5" font-weight="bold" fill="#111" text-anchor="middle" letter-spacing="0">17</text>
<rect x="244.7" y="488.1" width="21.5" height="14.5" fill="#fff" opacity="0.92"/><text x="255.4" y="499.9" font-size="12.5" font-weight="bold" fill="#111" text-anchor="middle" letter-spacing="0">19</text>
<rect x="241.2" y="563.2" width="21.5" height="14.5" fill="#fff" opacity="0.92"/><text x="252.0" y="575.0" font-size="12.5" font-weight="bold" fill="#111" text-anchor="middle" letter-spacing="0">20</text>
<rect x="133.2" y="429.8" width="21.5" height="14.5" fill="#fff" opacity="0.92"/><text x="144.0" y="441.5" font-size="12.5" font-weight="bold" fill="#111" text-anchor="middle" letter-spacing="0">21</text>
<rect x="376.2" y="637.4" width="21.5" height="14.5" fill="#fff" opacity="0.92"/><text x="387.0" y="649.1" font-size="12.5" font-weight="bold" fill="#111" text-anchor="middle" letter-spacing="0">22</text>
<rect x="504.6" y="625.8" width="21.5" height="14.5" fill="#fff" opacity="0.92"/><text x="515.4" y="637.5" font-size="12.5" font-weight="bold" fill="#111" text-anchor="middle" letter-spacing="0">23</text>
<rect x="334.9" y="398.6" width="21.5" height="14.5" fill="#fff" opacity="0.92"/><text x="345.7" y="410.3" font-size="12.5" font-weight="bold" fill="#111" text-anchor="middle" letter-spacing="0">12</text>
<rect x="337.2" y="460.8" width="21.5" height="14.5" fill="#fff" opacity="0.92"/><text x="348.0" y="472.5" font-size="12.5" font-weight="bold" fill="#111" text-anchor="middle" letter-spacing="0">10</text>
<rect x="401.2" y="445.4" width="21.5" height="14.5" fill="#fff" opacity="0.92"/><text x="412.0" y="457.2" font-size="12.5" font-weight="bold" fill="#111" text-anchor="middle" letter-spacing="0">11</text>
<rect x="374.1" y="536.2" width="13.8" height="14.5" fill="#fff" opacity="0.92"/><text x="381.0" y="548.0" font-size="12.5" font-weight="bold" fill="#111" text-anchor="middle" letter-spacing="0">9</text>
<rect x="508.6" y="562.8" width="13.8" height="14.5" fill="#fff" opacity="0.92"/><text x="515.5" y="574.5" font-size="12.5" font-weight="bold" fill="#111" text-anchor="middle" letter-spacing="0">8</text>
<rect x="504.6" y="488.8" width="13.8" height="14.5" fill="#fff" opacity="0.92"/><text x="511.5" y="500.5" font-size="12.5" font-weight="bold" fill="#111" text-anchor="middle" letter-spacing="0">7</text>
<rect x="460.7" y="425.4" width="13.8" height="14.5" fill="#fff" opacity="0.92"/><text x="467.6" y="437.2" font-size="12.5" font-weight="bold" fill="#111" text-anchor="middle" letter-spacing="0">6</text>
<rect x="532.1" y="425.4" width="13.8" height="14.5" fill="#fff" opacity="0.92"/><text x="539.0" y="437.2" font-size="12.5" font-weight="bold" fill="#111" text-anchor="middle" letter-spacing="0">5</text>
<rect x="530.5" y="375.8" width="13.8" height="14.5" fill="#fff" opacity="0.92"/><text x="537.4" y="387.5" font-size="12.5" font-weight="bold" fill="#111" text-anchor="middle" letter-spacing="0">4</text>
<rect x="465.7" y="369.9" width="13.8" height="14.5" fill="#fff" opacity="0.92"/><text x="472.6" y="381.7" font-size="12.5" font-weight="bold" fill="#111" text-anchor="middle" letter-spacing="0">3</text>
<rect x="461.9" y="322.6" width="13.8" height="14.5" fill="#fff" opacity="0.92"/><text x="468.8" y="334.3" font-size="12.5" font-weight="bold" fill="#111" text-anchor="middle" letter-spacing="0">2</text>
<rect x="519.9" y="322.8" width="13.8" height="14.5" fill="#fff" opacity="0.92"/><text x="526.8" y="334.5" font-size="12.5" font-weight="bold" fill="#111" text-anchor="middle" letter-spacing="0">1</text>
<rect x="574.0" y="423.1" width="21.5" height="14.5" fill="#fff" opacity="0.92"/><text x="584.7" y="434.9" font-size="12.5" font-weight="bold" fill="#111" text-anchor="middle" letter-spacing="0">24</text>
<rect x="598.5" y="355.6" width="37.0" height="14.5" fill="#fff" opacity="0.92"/><text x="617.0" y="367.3" font-size="12.5" font-weight="bold" fill="#111" text-anchor="middle" letter-spacing="0">P 11</text>
<rect x="598.5" y="474.1" width="37.0" height="14.5" fill="#fff" opacity="0.92"/><text x="617.0" y="485.8" font-size="12.5" font-weight="bold" fill="#111" text-anchor="middle" letter-spacing="0">P 12</text>
<rect x="598.5" y="599.8" width="37.0" height="14.5" fill="#fff" opacity="0.92"/><text x="617.0" y="611.5" font-size="12.5" font-weight="bold" fill="#111" text-anchor="middle" letter-spacing="0">P 13</text>
<rect x="510.1" y="689.8" width="37.0" height="14.5" fill="#fff" opacity="0.92"/><text x="528.6" y="701.5" font-size="12.5" font-weight="bold" fill="#111" text-anchor="middle" letter-spacing="0">P 14</text>
<g font-weight="bold" fill="#111" font-size="12.5" text-anchor="middle">
<text x="844" y="124.2">DIOBNI NACRT</text>
<text x="843.8" y="139.8" textLength="227" lengthAdjust="spacingAndGlyphs">STAMBENO – POSLOVNE ZGRADE A</text>
<text x="846" y="155">U SRIMI</text>
<text x="847.3" y="617.5" font-size="10.8" textLength="107.8" lengthAdjust="spacing">TLOCRT PRIZEMLJA</text>
<text x="847.5" y="630.5" font-size="10.8" textLength="45" lengthAdjust="spacing">M 1 : 150</text>
</g>
<rect x="748.0" y="267.0" width="44.4" height="17.6" fill="url(#hp)" stroke="#888" stroke-width="0.8" />
<text x="798" y="280" font-size="12" font-weight="bold" fill="#111" textLength="99" lengthAdjust="spacingAndGlyphs">Stan S 1 - prizemlje</text>
<path d="M809.5,510 L855,528.2 L848.5,541.2 Z" fill="#000"/>
<text x="0" y="4.6" font-size="13" font-weight="bold" fill="#000" text-anchor="middle" transform="translate(859.8,539.8) rotate(-60)">S</text>
</svg></body></html>
